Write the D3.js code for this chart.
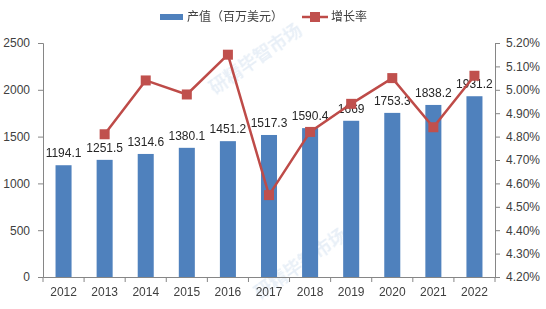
<!DOCTYPE html>
<meta charset="utf-8">
<head>
<title>产值</title>
<script src="https://d3js.org/d3.v7.min.js"></script>
<style>
  body { margin: 0; background: #fff; }
  svg text { font-family: "Liberation Sans", "Noto Sans CJK SC", sans-serif; }
</style>
</head>
<body>
<svg id="chart" width="546" height="309"></svg>
<script>
// 数据
var years = ["2012","2013","2014","2015","2016","2017","2018","2019","2020","2021","2022"]
var output = [1194.1, 1251.5, 1314.6, 1380.1, 1451.2, 1517.3, 1590.4, 1669, 1753.3, 1838.2, 1931.2]
var growth = [null, 4.81, 5.04, 4.98, 5.15, 4.55, 4.82, 4.94, 5.05, 4.84, 5.06]
var leftTicks = [0, 500, 1000, 1500, 2000, 2500]
var rightTicks = [4.2, 4.3, 4.4, 4.5, 4.6, 4.7, 4.8, 4.9, 5.0, 5.1, 5.2]

var svg = d3.select("#chart")
var margin = {top: 43, bottom: 32, left: 43, right: 51}
var W = 546, H = 309
var innerW = W - margin.left - margin.right
var innerH = H - margin.top - margin.bottom

// 水印（很淡）
var wm = svg.append("g").attr("fill", "#dfe9f4").attr("opacity", 0.7)
  .style("font-family", "Noto Sans CJK SC").style("font-weight", "bold")
wm.append("text").attr("transform", "translate(215,95) rotate(-35)").attr("font-size", 18).text("研精毕智市场")
wm.append("text").attr("transform", "translate(260,300) rotate(-35)").attr("font-size", 18).text("研精毕智市场")

var g = svg.append("g").attr("transform", "translate(" + margin.left + "," + margin.top + ")")

var x = d3.scaleBand().domain(years).range([0, innerW]).paddingInner(0.61).paddingOuter(0.305)
var y = d3.scaleLinear().domain([0, 2500]).range([innerH, 0])
var y2 = d3.scaleLinear().domain([4.2, 5.2]).range([innerH, 0])

// 左轴
var ax = g.append("g")
  .call(d3.axisLeft(y).tickValues(leftTicks).tickSize(5).tickPadding(8).tickFormat(d3.format("d")))
// 右轴
var ax2 = g.append("g").attr("transform", "translate(" + innerW + ",0)")
  .call(d3.axisRight(y2).tickValues(rightTicks).tickSize(5).tickPadding(6)
    .tickFormat(function(d){ return d.toFixed(2) + "%" }))
// 底轴
var step = x.step()
var ax3 = g.append("g").attr("transform", "translate(0," + innerH + ")")
  .call(d3.axisBottom(x).tickSize(0).tickPadding(10))
ax3.selectAll(".bound").data(d3.range(years.length + 1)).enter().append("line")
  .attr("x1", function(i){ return i * step }).attr("x2", function(i){ return i * step })
  .attr("y1", 0).attr("y2", 5).attr("stroke", "#868686")

;[ax, ax2, ax3].forEach(function(a){
  a.select(".domain").attr("stroke", "#868686")
  a.selectAll(".tick line").attr("stroke", "#868686")
  a.selectAll("text").attr("fill", "#404040").attr("font-size", 12)
})

// 柱子
g.selectAll(".bar").data(output).enter().append("rect")
  .attr("x", function(d, i){ return x(years[i]) })
  .attr("y", function(d){ return y(d) })
  .attr("width", x.bandwidth())
  .attr("height", function(d){ return innerH - y(d) })
  .attr("fill", "#4f81bd")

g.selectAll(".lbl").data(output).enter().append("text")
  .attr("x", function(d, i){ return x(years[i]) + x.bandwidth() / 2 })
  .attr("y", function(d){ return y(d) - 8 })
  .attr("text-anchor", "middle").attr("font-size", 12).attr("fill", "#262626")
  .text(function(d){ return d })

// 增长率折线
var pts = growth.map(function(v, i){ return {year: years[i], v: v} }).filter(function(d){ return d.v != null })
g.append("path").datum(pts)
  .attr("d", d3.line().x(function(d){ return x(d.year) + x.bandwidth() / 2 }).y(function(d){ return y2(d.v) }))
  .attr("fill", "none").attr("stroke", "#be4b48").attr("stroke-width", 2.5)
g.selectAll(".mk").data(pts).enter().append("rect")
  .attr("x", function(d){ return x(d.year) + x.bandwidth() / 2 - 5 })
  .attr("y", function(d){ return y2(d.v) - 5 })
  .attr("width", 10).attr("height", 10).attr("fill", "#c0504d")

// 图例
var lg = svg.append("g")
lg.append("rect").attr("x", 160).attr("y", 14).attr("width", 23).attr("height", 6).attr("fill", "#4f81bd")
lg.append("text").attr("x", 187).attr("y", 21).attr("font-size", 12).attr("fill", "#404040")
  .style("font-family", "Noto Sans CJK SC").text("产值（百万美元）")
lg.append("line").attr("x1", 302).attr("x2", 328).attr("y1", 17).attr("y2", 17)
  .attr("stroke", "#be4b48").attr("stroke-width", 2.5)
lg.append("rect").attr("x", 310).attr("y", 12).attr("width", 10).attr("height", 10).attr("fill", "#c0504d")
lg.append("text").attr("x", 331).attr("y", 21).attr("font-size", 12).attr("fill", "#404040")
  .style("font-family", "Noto Sans CJK SC").text("增长率")
</script>
</body>
